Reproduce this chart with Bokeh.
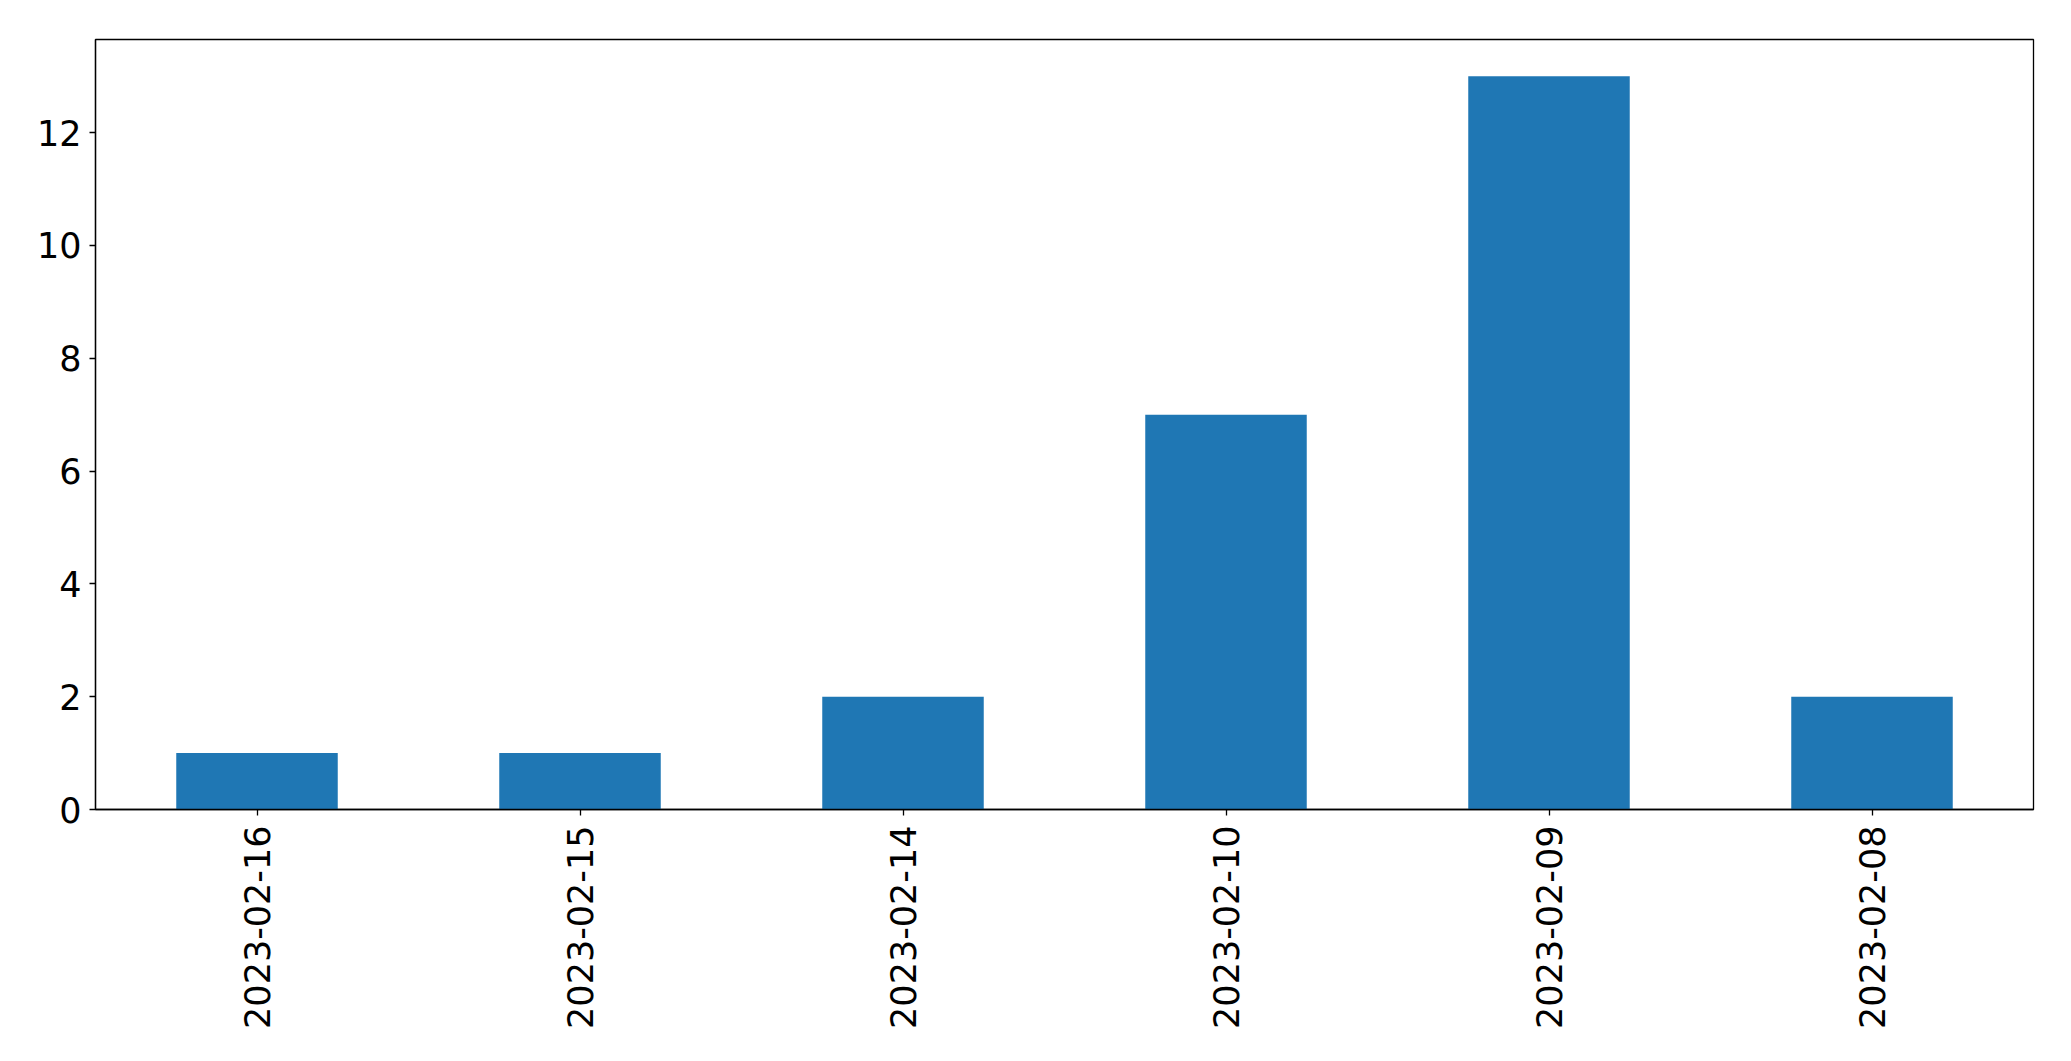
from bokeh.plotting import figure
from bokeh.models import FactorRange, Range1d, SingleIntervalTicker, ColumnDataSource
from bokeh.embed import file_html
from bokeh.resources import INLINE
import math

dates = ["2023-02-16", "2023-02-15", "2023-02-14", "2023-02-10", "2023-02-09", "2023-02-08"]
counts = [1, 1, 2, 7, 13, 2]

src = ColumnDataSource(data=dict(dates=dates, counts=counts))

p = figure(
    x_range=FactorRange(factors=dates, range_padding=0),
    y_range=Range1d(0, max(counts) * 1.05),
    width=2055, height=1045,
    output_backend="svg", toolbar_location=None,
    min_border_left=95, min_border_right=22, min_border_top=39, min_border_bottom=236,
)
p.vbar(x="dates", top="counts", width=0.5, source=src, color="#1f77b4", line_color=None)

p.xgrid.visible = False
p.ygrid.visible = False
p.outline_line_color = "black"
p.outline_line_width = 1.3
p.outline_line_alpha = 1

p.yaxis.ticker = SingleIntervalTicker(interval=2)
for ax in (p.xaxis[0], p.yaxis[0]):
    ax.axis_line_color = "black"
    ax.axis_line_width = 1.3
    ax.major_tick_line_color = "black"
    ax.major_tick_line_width = 1.3
    ax.major_tick_out = 6
    ax.major_tick_in = 0
    ax.minor_tick_line_color = None
    ax.major_label_text_font = "DejaVu Sans"
    ax.major_label_text_font_size = "35px"
    ax.major_label_text_color = "black"
p.yaxis.major_label_standoff = 8
p.xaxis.major_label_standoff = 10
p.xaxis.major_label_orientation = math.pi / 2

open("out.html", "w").write(file_html(p, INLINE))
